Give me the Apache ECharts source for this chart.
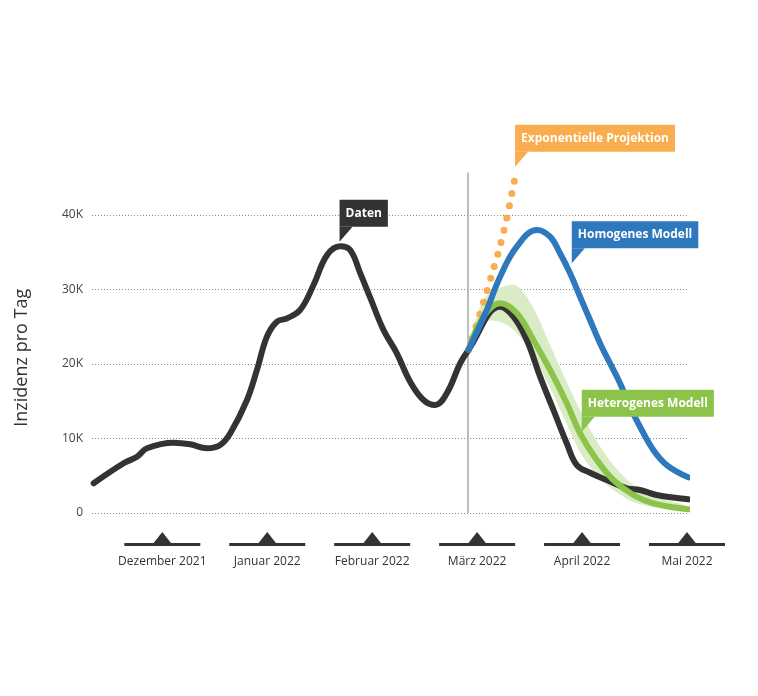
<!DOCTYPE html>
<html>
<head>
<meta charset="utf-8">
<script src="https://cdn.jsdelivr.net/npm/echarts@6/dist/echarts.min.js"></script>
<style>html,body{margin:0;padding:0;background:#fff}#c{width:758px;height:696px}</style>
</head>
<body>
<div id="c"></div>
<script>
// ---- data (x in months, 0 = Dezember 2021) ----
const monthLabels = ['Dezember 2021','Januar 2022','Februar 2022','März 2022','April 2022','Mai 2022'];
const monthPos = [0, 1, 2, 3, 4, 5];

const datenX = [-0.654,-0.369,-0.241,-0.146,0.108,0.267,0.426,0.552,0.648,0.807,0.902,0.997,1.092,1.188,1.314,1.441,1.569,1.695,1.790,1.886,1.981,2.108,2.235,2.362,2.489,2.6,2.711,2.838,2.917,3.219,3.346,3.473,3.6,3.727,3.854,3.95,4.076,4.235,4.426,4.552,4.711,5.012];
const datenY = [3990,6670,7560,8690,9440,9220,8690,9130,10700,15170,19200,23670,25680,26130,27250,30600,34600,35800,35300,32200,28900,24560,21440,17620,15170,14500,16070,20090,21880,27690,26350,23220,18300,13830,9360,6440,5410,4430,3320,3090,2420,1840];

const homX = [2.917,3.092,3.219,3.378,3.569,3.695,3.79,3.886,3.981,4.076,4.171,4.267,4.362,4.457,4.552,4.679,4.807,5.012];
const homY = [21880,27250,31720,35750,37990,37090,34860,32170,29030,25910,22780,20090,17410,14270,11580,8460,6440,4790];

const hetX = [2.917,3.06,3.219,3.378,3.536,3.695,3.854,3.981,4.14,4.298,4.489,4.679,5.012];
const hetY = [21880,26350,28150,26810,23220,19200,14730,10700,7110,4430,2420,1300,500];
const hetUpper = [22280,28590,30200,30470,27520,22550,17580,13830,9660,6440,3760,2280,850];
const hetLower = [21610,25500,25640,24160,20940,16780,11950,8190,5100,3090,1480,810,180];

const expX = [2.917,3.06,3.155,3.219,3.298,3.362];
const expY = [21880,28230,32710,35840,40580,45140];

const forecastStart = 2.914;
const forecastLineTop = 45700;

// callout texts and their anchor points (data coordinates)
const calloutTexts = ['Daten','Exponentielle Projektion','Homogenes Modell','Heterogenes Modell'];
const calloutAnchors = [[1.689,36420],[3.362,46480],[3.902,33520],[3.997,10910]];

// ---- build ----
const zip = (xs, ys) => xs.map((x, i) => [x, ys[i]]);
const FONT = '"Open Sans", "Noto Sans", sans-serif';
const C = {black:'#333333', blue:'#2E78BE', green:'#8CC34B', orange:'#F9AD4E', band:'#d9ecc5'};
const GRID = '#888';

function callout(i, color) {
  return {
    symbol: 'path://M0,0L13,0L0,15Z',
    symbolSize: [13, 15],
    symbolOffset: [6.5, -7.5],
    symbolKeepAspect: false,
    silent: true,
    itemStyle: {color: color},
    label: {
      show: true, position: 'top', distance: 0, align: 'left', offset: [-6.5, 0],
      formatter: '{b}', color: '#fff', fontFamily: FONT, fontWeight: 'bold', fontSize: 12,
      lineHeight: 15, backgroundColor: color, padding: [6, 6, 6, 6]
    },
    data: [{name: calloutTexts[i], coord: calloutAnchors[i]}]
  };
}

const chart = echarts.init(document.getElementById('c'), null, {renderer: 'canvas'});
chart.setOption({
  animation: false,
  grid: {left: 92, right: 71, top: 140.5, bottom: 183},
  xAxis: {
    type: 'value', min: -0.67, max: 5.0,
    axisLine: {show: false}, axisTick: {show: false}, splitLine: {show: false},
    axisLabel: {
      customValues: monthPos, formatter: v => monthLabels[Math.round(v)] || '',
      margin: 43, color: '#333', fontSize: 12, fontFamily: FONT, showMinLabel: true, showMaxLabel: true
    }
  },
  yAxis: {
    type: 'value', min: 0, max: 50000, interval: 10000,
    name: 'Inzidenz pro Tag', nameLocation: 'middle', nameRotate: 90, nameGap: 61,
    nameTextStyle: {fontSize: 18, color: '#333', fontFamily: FONT, padding: [0, 62, 0, 0]},
    axisLine: {show: false}, axisTick: {show: false},
    axisLabel: {margin: 9, color: '#444', fontSize: 12, fontFamily: FONT,
      formatter: v => v === 0 ? '0' : (v >= 50000 ? '' : (v / 1000) + 'K')},
    splitLine: {show: true, lineStyle: {color: [GRID, GRID, GRID, GRID, GRID, 'rgba(0,0,0,0)'], width: 1, type: [1, 2]}}
  },
  series: [
    {
      type: 'custom', name: 'band', silent: true, clip: false, z: 1,
      data: [[hetX[0], hetY[0]]],
      renderItem: (params, api) => {
        const up = hetX.map((x, i) => api.coord([x, hetUpper[i]]));
        const lo = hetX.map((x, i) => api.coord([x, hetLower[i]])).reverse();
        return {type: 'polygon', shape: {points: up.concat(lo), smooth: 0.35}, style: {fill: C.band}};
      }
    },
    {
      type: 'line', name: 'Exponentielle Projektion', data: zip(expX, expY), smooth: 0.3,
      symbol: 'none', clip: false,
      lineStyle: {color: C.orange, width: 7, type: [0, 12.5], cap: 'round'},
      markPoint: callout(1, C.orange)
    },
    {
      type: 'line', name: 'Daten', data: zip(datenX, datenY), smooth: 0.4, symbol: 'none', clip: false,
      lineStyle: {color: C.black, width: 6, cap: 'round', join: 'round'},
      markPoint: callout(0, C.black),
      markLine: {
        silent: true, symbol: 'none', z: 1, label: {show: false},
        lineStyle: {color: '#a8a8a8', width: 1.5, type: 'solid', opacity: 1},
        data: [[{coord: [forecastStart, 0]}, {coord: [forecastStart, forecastLineTop]}]]
      }
    },
    {
      type: 'line', name: 'Heterogenes Modell', data: zip(hetX, hetY), smooth: 0.4, symbol: 'none', clip: false,
      lineStyle: {color: C.green, width: 6, cap: 'round', join: 'round'},
      markPoint: callout(3, C.green)
    },
    {
      type: 'line', name: 'Homogenes Modell', data: zip(homX, homY), smooth: 0.4, symbol: 'none', clip: false,
      lineStyle: {color: C.blue, width: 6, cap: 'round', join: 'round'},
      markPoint: callout(2, C.blue)
    },
    {
      type: 'custom', name: 'monthTicks', silent: true, clip: false,
      data: monthPos.map(m => [m, 0]),
      renderItem: (params, api) => {
        const p = api.coord([api.value(0), 0]);
        return {
          type: 'group',
          children: [
            {type: 'rect', shape: {x: p[0] - 38, y: p[1] + 30, width: 76, height: 3}, style: {fill: '#333'}},
            {type: 'polygon', shape: {points: [[p[0] - 9.5, p[1] + 31], [p[0], p[1] + 19], [p[0] + 9.5, p[1] + 31]]}, style: {fill: '#333'}}
          ]
        };
      }
    }
  ]
});
</script>
</body>
</html>
